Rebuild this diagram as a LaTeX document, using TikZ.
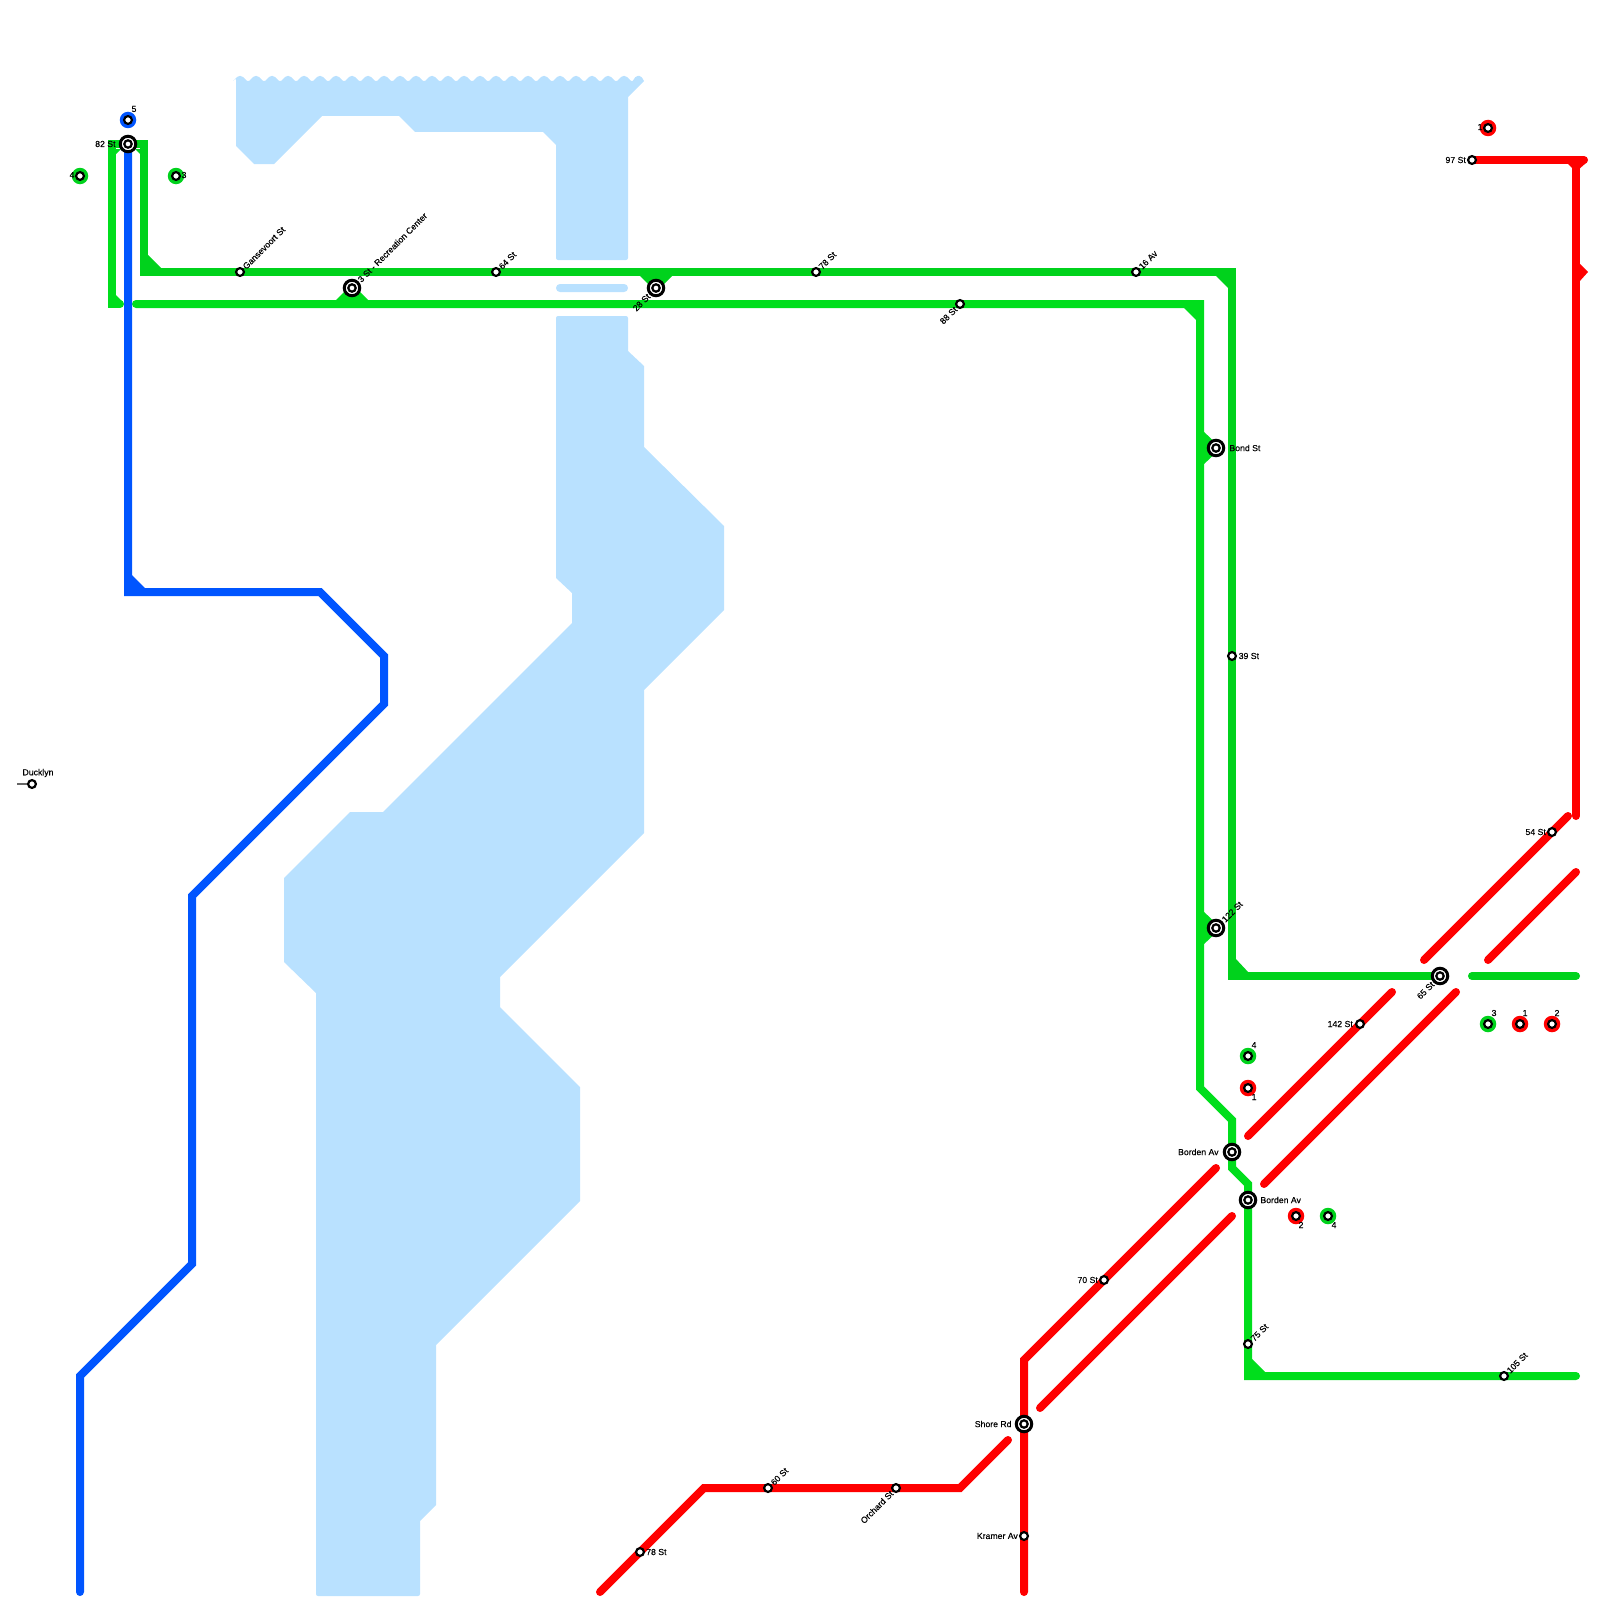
\documentclass[tikz,border=0pt]{standalone}
\usepackage{fontspec}
\newfontfamily\mapfont[FakeBold=0.25]{Liberation Sans}
\usepackage{tikz}
\usetikzlibrary{positioning,backgrounds}
\definecolor{metroGreen}{HTML}{00D21C}
\definecolor{metroLime}{HTML}{00DE1C}
\definecolor{metroBlue}{HTML}{0055FF}
\definecolor{metroRed}{HTML}{FF0000}
\definecolor{metroWater}{HTML}{B9E1FF}

\begin{document}
\begin{tikzpicture}[
    x=1pt, y=-1pt,
    every node/.style={font=\mapfont\fontsize{8.7}{10}\selectfont, inner sep=0pt, text=black},
    stop/.style={circle, draw=black, line width=2.2pt, fill=white, minimum size=7.8pt},
    core/.style={circle, draw=black, line width=2.2pt, fill=white, minimum size=7.4pt},
    hub/.style={circle, draw=black, line width=3pt, fill=white, minimum size=15.5pt, append after command={node[core] (\tikzlastnode-core) at (\tikzlastnode.center) {}}},
    dock/.style={circle, fill=#1, minimum size=16.5pt},
    labelup/.style={above right=0.6pt and 0.6pt of #1, rotate=45, anchor=west},
    labeldown/.style={below left=0.6pt and 0.6pt of #1, rotate=45, anchor=east},
    track/.style={line width=8pt, line cap=round, miter limit=10, color=#1},
    web/.style={fill=#1},
    water/.style={fill=metroWater}
  ]
    \useasboundingbox (0,0) rectangle (1600,1600);

    % stations on the top of the map
    \node[dock=metroBlue] (dockfive) at (128,120) {};
    \node[stop] (five) at (128,120) {};
    \node[dock=metroGreen] (dockfourw) at (80,176) {};
    \node[stop] (fourw) at (80,176) {};
    \node[dock=metroGreen] (dockthreew) at (176,176) {};
    \node[stop] (threew) at (176,176) {};
    \node[hub] (eightytwo) at (128,144) {};
    \node[stop] (gansevoort) at (240,272) {};
    \node[hub] (third) at (352,288) {};
    \node[stop] (sixtyfour) at (496,272) {};
    \node[hub] (twentyeight) at (656,288) {};
    \node[stop] (seventyeight) at (816,272) {};
    \node[stop] (eightyeight) at (960,304) {};
    \node[stop] (sixteen) at (1136,272) {};
    \node[stop] (ducklyn) at (32,784) {};
    \coordinate (ducklynend) at (17,784);

    % stations on the right
    \node[hub] (bond) at (1216,448) {};
    \node[stop] (thirtynine) at (1232,656) {};
    \node[hub] (onetwotwo) at (1216,928) {};
    \node[hub] (sixtyfive) at (1440,976) {};
    \node[stop] (onefortytwo) at (1360,1024) {};
    \node[dock=metroGreen] (dockthreee) at (1488,1024) {};
    \node[stop] (threee) at (1488,1024) {};
    \node[dock=metroRed] (dockonee) at (1520,1024) {};
    \node[stop] (onee) at (1520,1024) {};
    \node[dock=metroRed] (docktwoe) at (1552,1024) {};
    \node[stop] (twoe) at (1552,1024) {};
    \node[dock=metroGreen] (dockfourm) at (1248,1056) {};
    \node[stop] (fourm) at (1248,1056) {};
    \node[dock=metroRed] (dockonem) at (1248,1088) {};
    \node[stop] (onem) at (1248,1088) {};
    \node[hub] (bordenw) at (1232,1152) {};
    \node[hub] (bordene) at (1248,1200) {};
    \node[dock=metroRed] (docktwos) at (1296,1216) {};
    \node[stop] (twos) at (1296,1216) {};
    \node[dock=metroGreen] (dockfours) at (1328,1216) {};
    \node[stop] (fours) at (1328,1216) {};
    \node[stop] (seventy) at (1104,1280) {};
    \node[stop] (seventyfive) at (1248,1344) {};
    \node[stop] (onehundredfive) at (1504,1376) {};
    \node[hub] (shore) at (1024,1424) {};
    \node[stop] (kramer) at (1024,1536) {};
    \node[stop] (orchard) at (896,1488) {};
    \node[stop] (sixty) at (768,1488) {};
    \node[stop] (seventyeights) at (640,1552) {};
    \node[stop] (fiftyfour) at (1552,832) {};
    \node[stop] (ninetyseven) at (1472,160) {};
    \node[dock=metroRed] (dockonen) at (1488,128) {};
    \node[stop] (onen) at (1488,128) {};

    % labels
    \node (lblfive) at (134,109) {5};
    \node[left=3pt of eightytwo] (lbleightytwo) {82 St};
    \node (lblfourw) at (72,175) {4};
    \node (lblthreew) at (184,175) {3};
    \node[labelup=gansevoort] (lblgansevoort) {Gansevoort St};
    \node[labelup=third] (lblthird) {3 St - Recreation Center};
    \node[labelup=sixtyfour] (lblsixtyfour) {64 St};
    \node[labeldown=twentyeight] (lbltwentyeight) {28 St};
    \node[labelup=seventyeight] (lblseventyeight) {78 St};
    \node[labeldown=eightyeight] (lbleightyeight) {88 St};
    \node[labelup=sixteen] (lblsixteen) {16 Av};
    \node (lblducklyn) at (38,773) {Ducklyn};
    \node[right=4pt of bond] (lblbond) {Bond St};
    \node[right=1.5pt of thirtynine] (lblthirtynine) {39 St};
    \node[labelup=onetwotwo] (lblonetwotwo) {122 St};
    \node[labeldown=sixtyfive] (lblsixtyfive) {65 St};
    \node[left=2pt of onefortytwo] (lblonefortytwo) {142 St};
    \node (lblthreee) at (1494,1013) {3};
    \node (lblonee) at (1525,1013) {1};
    \node (lbltwoe) at (1557,1013) {2};
    \node (lblfourm) at (1254,1045) {4};
    \node (lblonem) at (1254,1097) {1};
    \node[left=4pt of bordenw] (lblbordenw) {Borden Av};
    \node[right=3pt of bordene] (lblbordene) {Borden Av};
    \node (lbltwos) at (1301,1225) {2};
    \node (lblfours) at (1334,1225) {4};
    \node[left=1pt of seventy] (lblseventy) {70 St};
    \node[labelup=seventyfive] (lblseventyfive) {75 St};
    \node[labelup=onehundredfive] (lblonehundredfive) {105 St};
    \node[left=3pt of shore] (lblshore) {Shore Rd};
    \node[left=1pt of kramer] (lblkramer) {Kramer Av};
    \node[labeldown=orchard] (lblorchard) {Orchard St};
    \node[labelup=sixty] (lblsixty) {60 St};
    \node[right=1pt of seventyeights] (lblseventyeights) {78 St};
    \node[left=1pt of fiftyfour] (lblfiftyfour) {54 St};
    \node[left=1pt of ninetyseven] (lblninetyseven) {97 St};
    \node (lblonen) at (1480,127) {1};

    % bends and free ends of the lines
    \coordinate (gtopl) at (112,144);
    \coordinate (gbotl) at (112,304);
    \coordinate (gendl) at (120,304);
    \coordinate (gtopr) at (144,144);
    \coordinate (gcorn) at (144,272);
    \coordinate (gne) at (1232,272);
    \coordinate (gse) at (1232,976);
    \coordinate (gfarw) at (1472,976);
    \coordinate (gfare) at (1576,976);
    \coordinate (lstart) at (136,304);
    \coordinate (lne) at (1200,304);
    \coordinate (lse) at (1200,1088);
    \coordinate (ldiaga) at (1232,1120);
    \coordinate (ldiagb) at (1232,1168);
    \coordinate (ldiagc) at (1248,1184);
    \coordinate (lcorn) at (1248,1376);
    \coordinate (lend) at (1576,1376);
    \coordinate (bcorn) at (128,592);
    \coordinate (bb) at (320,592);
    \coordinate (bc) at (384,656);
    \coordinate (bd) at (384,704);
    \coordinate (be) at (192,896);
    \coordinate (bf) at (192,1264);
    \coordinate (bg) at (80,1376);
    \coordinate (bend) at (80,1592);
    \coordinate (rne) at (1584,160);
    \coordinate (rtop) at (1576,160);
    \coordinate (rbot) at (1576,816);
    \coordinate (raa) at (1568,816);
    \coordinate (rab) at (1424,960);
    \coordinate (rba) at (1576,872);
    \coordinate (rbb) at (1488,960);
    \coordinate (rca) at (1392,992);
    \coordinate (rcb) at (1248,1136);
    \coordinate (rda) at (1456,992);
    \coordinate (rdb) at (1264,1184);
    \coordinate (rea) at (1216,1168);
    \coordinate (reb) at (1024,1360);
    \coordinate (rec) at (1024,1592);
    \coordinate (rfa) at (1232,1216);
    \coordinate (rfb) at (1040,1408);
    \coordinate (rga) at (1008,1440);
    \coordinate (rgb) at (960,1488);
    \coordinate (rgc) at (704,1488);
    \coordinate (rgd) at (600,1592);

    \begin{scope}[on background layer]
    % water
    \fill[water] (236,78) -- (236,146) -- (254,164) -- (274,164) -- (322,116) -- (399,116) -- (415,132) -- (543,132) -- (556,145) -- (556,258) [rounded corners=2pt] -- (556,260) -- (628,260) [sharp corners] -- (628,97) -- (644,81) [rounded corners=1.5pt] -- (641,76) -- (636,76) -- (632,82)
      \foreach \x in {624,608,...,240} { -- (\x+2,76) -- (\x-2,76) -- (\x-8,82) } -- cycle;
    \fill[water, rounded corners=3.9pt] (556,284) -- (628,284) -- (628,292) -- (556,292) -- cycle;
    \fill[water] (556,320) [rounded corners=2pt] -- (556,316) -- (628,316) [sharp corners] -- (628,351) -- (644,366) -- (644,447) -- (724,526) -- (724,610) -- (644,690) -- (644,833) -- (500,977) -- (500,1007) -- (580,1087) -- (580,1201) -- (436,1345) -- (436,1505) -- (420,1521) -- (420,1590) [rounded corners=2pt] -- (420,1596) -- (316,1596) [sharp corners] -- (316,993) -- (284,962) -- (284,878) -- (350,812) -- (383,812) -- (572,623) -- (572,593) -- (556,578) -- cycle;

    % green lines
    \draw[track=metroLime] (eightytwo.center) -- (gtopl) -- (gbotl) -- (gendl);
    \draw[track=metroLime] (lstart) -- (lne) -- (lse) -- (ldiaga) -- (ldiagb) -- (ldiagc) -- (lcorn) -- (lend);
    \draw[track=metroGreen] (eightytwo.center) -- (gtopr) -- (gcorn) -- (gne) -- (gse) -- (sixtyfive.center);
    \draw[track=metroGreen] (gfarw) -- (gfare);
    \fill[web=metroLime] (116,154) -- (121,149) -- (116,149) -- cycle;
    \fill[web=metroGreen] (140,154) -- (135,149) -- (140,149) -- cycle;
    \fill[web=metroLime] (116,295) -- (116,301) -- (122,301) -- cycle;
    \fill[web=metroGreen] (148,255) -- (148,269) -- (162,269) -- cycle;
    \fill[web=metroLime] (335,301) -- (352,284) -- (369,301) -- cycle;
    \fill[web=metroGreen] (639,275) -- (673,275) -- (656,292) -- cycle;
    \fill[web=metroLime] (1183,307) -- (1197,307) -- (1197,321) -- cycle;
    \fill[web=metroGreen] (1215,275) -- (1229,275) -- (1229,289) -- cycle;
    \fill[web=metroLime] (1203,431) -- (1221,448) -- (1203,465) -- cycle;
    \fill[web=metroLime] (1203,911) -- (1221,928) -- (1203,945) -- cycle;
    \fill[web=metroGreen] (1235,958) -- (1249,973) -- (1235,973) -- cycle;
    \fill[web=metroLime] (1251,1358) -- (1266,1373) -- (1251,1373) -- cycle;

    % blue line
    \draw[track=metroBlue] (eightytwo.center) -- (bcorn) -- (bb) -- (bc) -- (bd) -- (be) -- (bf) -- (bg) -- (bend);
    \fill[web=metroBlue] (132,575) -- (146,589) -- (132,589) -- cycle;

    % red lines
    \draw[track=metroRed] (ninetyseven.center) -- (rne);
    \draw[track=metroRed] (rtop) -- (rbot);
    \draw[track=metroRed] (raa) -- (rab);
    \draw[track=metroRed] (rba) -- (rbb);
    \draw[track=metroRed] (rca) -- (rcb);
    \draw[track=metroRed] (rda) -- (rdb);
    \draw[track=metroRed] (rea) -- (reb) -- (rec);
    \draw[track=metroRed] (rfa) -- (rfb);
    \draw[track=metroRed] (rga) -- (rgb) -- (rgc) -- (rgd);
    \fill[web=metroRed] (1567,163) -- (1574,170) -- (1578,170) -- (1586,163) -- cycle;
    \fill[web=metroRed] (1579,263) -- (1588,272) -- (1579,282) -- cycle;

    \draw[color=black!60, line width=1.2pt] (ducklyn) -- (ducklynend);
    \end{scope}
  \end{tikzpicture}
\end{document}
